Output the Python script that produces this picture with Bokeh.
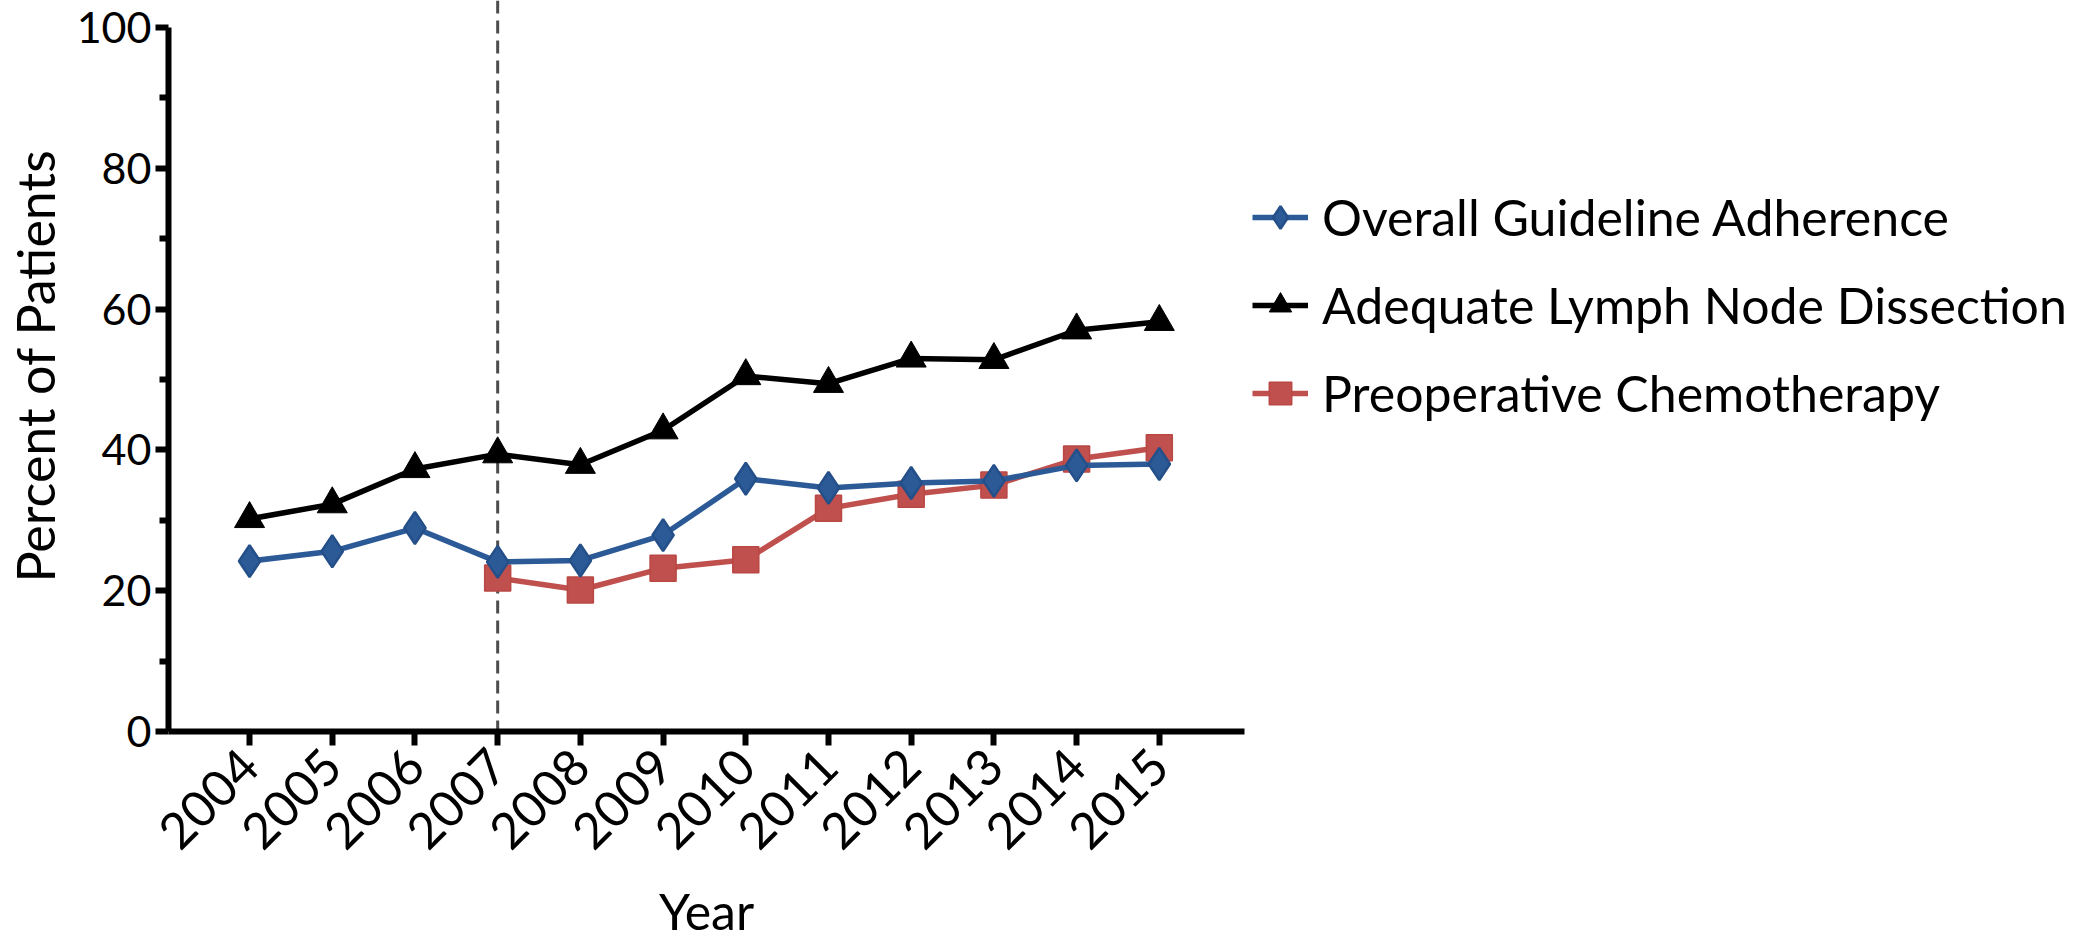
from math import pi
from bokeh.plotting import figure
from bokeh.models import (Range1d, FixedTicker, Span, Legend, LegendItem)
from bokeh.embed import file_html
from bokeh.resources import INLINE

years = [2004, 2005, 2006, 2007, 2008, 2009, 2010, 2011, 2012, 2013, 2014, 2015]
overall = [24.2, 25.6, 28.9, 24.1, 24.3, 27.9, 35.9, 34.6, 35.3, 35.6, 37.8, 38.0]
lymph = [30.2, 32.3, 37.3, 39.4, 37.9, 42.8, 50.5, 49.4, 53.0, 52.8, 57.0, 58.2]
chemo_years = [2007, 2008, 2009, 2010, 2011, 2012, 2013, 2014, 2015]
chemo = [21.8, 20.1, 23.2, 24.4, 31.7, 33.7, 35.0, 38.7, 40.3]
y_ticks = [0, 20, 40, 60, 80, 100]
y_minor = [10, 30, 50, 70, 90]
names = ["Overall Guideline Adherence", "Adequate Lymph Node Dissection",
         "Preoperative Chemotherapy"]
guideline_year = 2007

FONT = "Lato"
BLUE = "#2B5A97"
RED = "#C0504D"

p = figure(frame_width=1076, frame_height=731,
           min_border_left=168, min_border_right=840,
           min_border_top=0, min_border_bottom=190,
           x_range=Range1d(2003.02, 2016.03), y_range=Range1d(0, 103.84),
           output_backend="svg", toolbar_location=None,
           background_fill_color="white", border_fill_color="white")
p.outline_line_color = None
p.xgrid.visible = False
p.ygrid.visible = False

p.add_layout(Span(location=guideline_year, dimension="height",
                  line_color="#4D4D4D", line_width=3, line_dash="13 7",
                  level="underlay"))

r_line = p.line(chemo_years, chemo, line_color=RED, line_width=5.5)
r_pts = p.scatter(chemo_years, chemo, marker="square", size=26,
                  fill_color=RED, line_color="#B94744", line_width=1.5)
b_line = p.line(years, overall, line_color=BLUE, line_width=5.5)
b_pts = p.scatter(years, overall, marker="diamond", size=32,
                  fill_color=BLUE, line_color="#244F88", line_width=2.5)
k_line = p.line(years, lymph, line_color="black", line_width=5.5)
k_pts = p.scatter(years, lymph, marker="triangle", size=30,
                  fill_color="black", line_color="black")

for ax in (p.xaxis[0], p.yaxis[0]):
    ax.axis_line_width = 6
    ax.major_tick_line_width = 6
    ax.minor_tick_line_width = 6
    ax.major_tick_in = 0
    ax.minor_tick_in = 0
    ax.major_label_text_font = FONT
    ax.major_label_text_color = "black"
    ax.axis_label_text_font = FONT
    ax.axis_label_text_font_style = "normal"
    ax.axis_label_text_color = "black"

p.xaxis.ticker = FixedTicker(ticks=years)
p.xaxis.major_tick_out = 14
p.xaxis.minor_tick_out = 0
p.xaxis.major_label_orientation = pi / 4
p.xaxis.major_label_text_font_size = "50px"
p.xaxis.major_label_standoff = 12
p.xaxis.axis_label = "Year"
p.xaxis.axis_label_text_font_size = "50px"
p.xaxis.axis_label_standoff = 13

p.yaxis.ticker = FixedTicker(ticks=y_ticks, minor_ticks=y_minor)
p.yaxis.bounds = (0, 100)
p.yaxis.major_tick_out = 13
p.yaxis.minor_tick_out = 9
p.yaxis.major_label_text_font_size = "43px"
p.yaxis.major_label_standoff = 4
p.yaxis.axis_label = "Percent of Patients"
p.yaxis.axis_label_text_font_size = "52px"
p.yaxis.axis_label_standoff = 8

legend = Legend(items=[
    LegendItem(label=names[0], renderers=[b_line, b_pts]),
    LegendItem(label=names[1], renderers=[k_line, k_pts]),
    LegendItem(label=names[2], renderers=[r_line, r_pts]),
], location=(8, 307))
legend.border_line_color = None
legend.background_fill_alpha = 0
legend.padding = 0
legend.margin = 0
legend.glyph_width = 56
legend.glyph_height = 62
legend.label_height = 62
legend.spacing = 26
legend.label_standoff = 14
legend.label_text_font = FONT
legend.label_text_font_size = "50px"
legend.label_text_color = "black"
p.add_layout(legend, "right")

open("out.html", "w").write(file_html(p, INLINE))
